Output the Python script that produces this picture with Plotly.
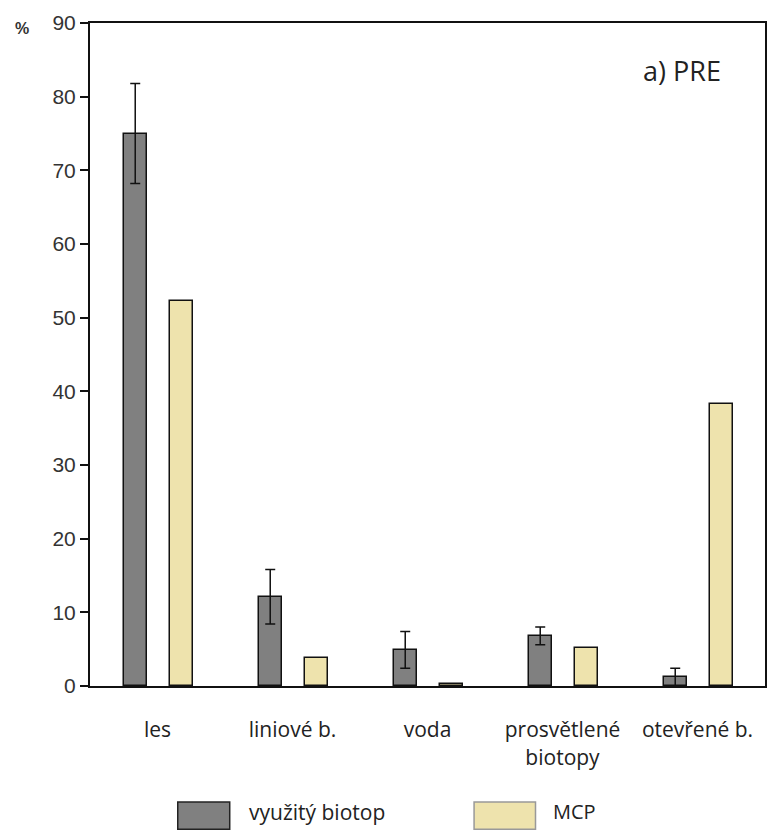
import plotly.graph_objects as go

categories = ["les", "liniové b.", "voda", "prosvětlené<br>biotopy", "otevřené b."]
used = [75.0, 12.1, 4.9, 6.8, 1.2]
used_err = [6.8, 3.7, 2.5, 1.2, 1.2]
mcp = [52.2, 3.8, 0.3, 5.2, 38.3]
y_ticks = [0, 10, 20, 30, 40, 50, 60, 70, 80, 90]
legend_names = ["využitý biotop", "MCP"]
colors = ["#808080", "#EEE3AD"]

fig = go.Figure()
fig.add_trace(go.Bar(
    x=categories, y=used, name=legend_names[0],
    width=0.17, offset=-0.25,
    marker=dict(color=colors[0], line=dict(color="#111111", width=1.5)),
    error_y=dict(type="data", array=used_err, color="#111111", thickness=1.5, width=5),
    showlegend=False,
))
fig.add_trace(go.Bar(
    x=categories, y=mcp, name=legend_names[1],
    width=0.17, offset=0.09,
    marker=dict(color=colors[1], line=dict(color="#111111", width=1.5)),
    showlegend=False,
))

# custom legend (boxes + labels) below the plot
legend_pos = [(0.13, 0.207), (0.569, 0.66)]
legend_text_x = [0.233, 0.683]
legend_sizes = [21, 20]
for (x0, x1), tx, sz, name, col in zip(legend_pos, legend_text_x, legend_sizes, legend_names, colors):
    fig.add_shape(type="rect", xref="paper", yref="paper",
                  x0=x0, x1=x1, y0=-0.216, y1=-0.175,
                  fillcolor=col, line=dict(color="#222222" if col == colors[0] else "#999999", width=1.5))
    fig.add_annotation(xref="paper", yref="paper", x=tx, y=-0.19,
                       text=name, showarrow=False, xanchor="left", yanchor="middle",
                       font=dict(family="Open Sans", size=sz, color="#222222"))

fig.add_annotation(xref="paper", yref="paper", x=0.877, y=0.929, text="a) PRE",
                   showarrow=False, xanchor="center", yanchor="middle",
                   font=dict(family="Open Sans", size=27, color="#222222"))
fig.add_annotation(xref="paper", yref="paper", x=-0.101, y=0.992, text="<b>%</b>",
                   showarrow=False, xanchor="center", yanchor="middle",
                   font=dict(family="Liberation Sans", size=16, color="#333333"))

fig.update_layout(
    width=770, height=832,
    margin=dict(l=90, r=3, t=23, b=146),
    plot_bgcolor="white", paper_bgcolor="white",
    bargap=0, barmode="overlay",
)
fig.update_xaxes(
    type="category", range=[-0.5, 4.5],
    showline=True, linecolor="#111111", linewidth=2, mirror=True,
    ticks="", ticklabelstandoff=24, showgrid=False,
    tickfont=dict(family="Open Sans", size=21, color="#222222"),
)
fig.update_yaxes(
    range=[0, 90], tickvals=y_ticks,
    showline=True, linecolor="#111111", linewidth=2, mirror=True,
    ticks="outside", ticklen=8, tickwidth=2, tickcolor="#111111",
    showgrid=False, zeroline=False,
    tickfont=dict(family="Liberation Sans", size=21, color="#333333"),
)

fig.write_html("out.html")
